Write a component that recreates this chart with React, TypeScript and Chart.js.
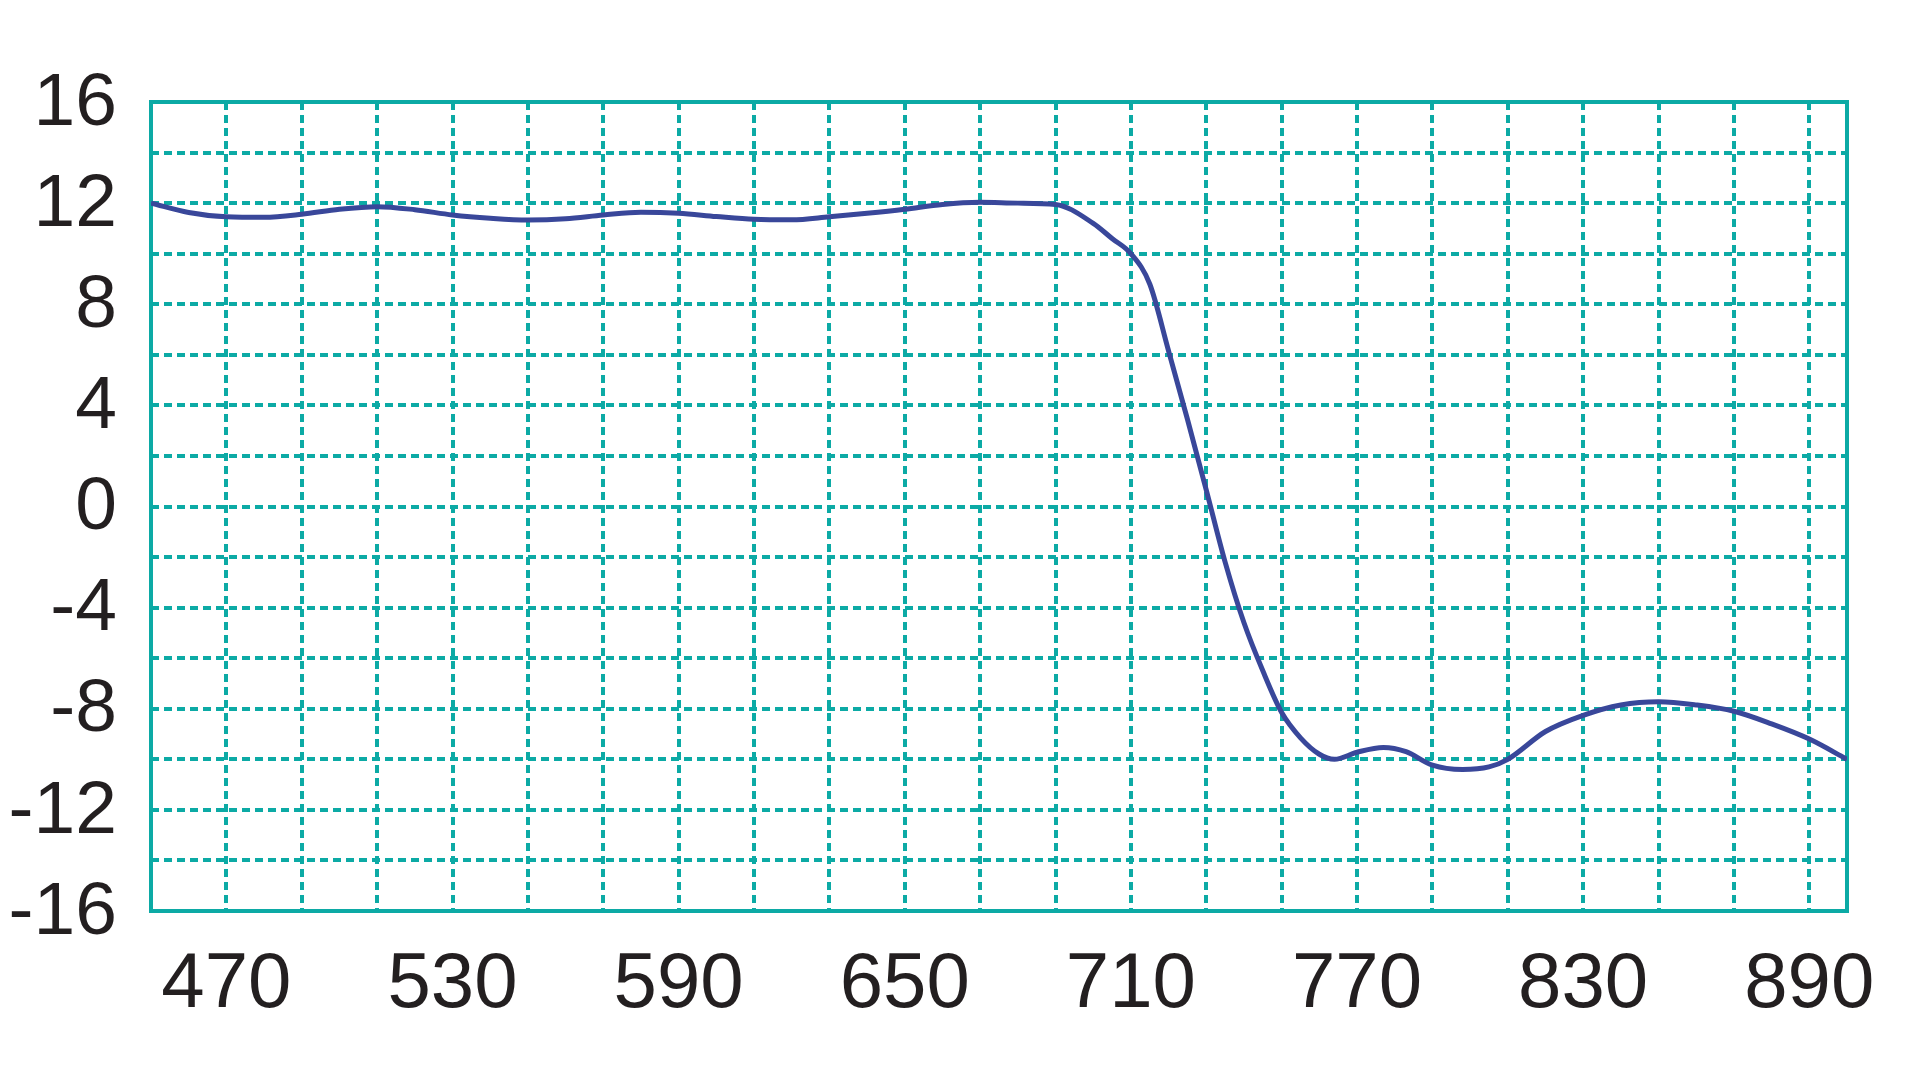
import React, { useEffect, useRef } from 'react';
import { Chart, registerables } from 'chart.js';

Chart.register(...registerables);

// Wavelength (x) and value (y)
const wavelengths = [
  450, 460, 470, 480, 490, 500, 510, 520, 530, 540, 550, 560, 570, 580, 590,
  600, 610, 620, 630, 640, 650, 660, 670, 680, 690, 700, 705, 710, 715, 720,
  725, 730, 735, 740, 745, 750, 755, 760, 764, 770, 777, 783, 790, 798, 805,
  810, 820, 830, 840, 850, 860, 870, 880, 890, 900,
];
const values = [
  12.0, 11.63, 11.46, 11.44, 11.56, 11.76, 11.86, 11.74, 11.53, 11.4, 11.33,
  11.38, 11.53, 11.64, 11.6, 11.47, 11.36, 11.34, 11.46, 11.6, 11.76, 11.95,
  12.03, 12.0, 11.95, 11.2, 10.6, 10.0, 8.8, 6.15, 3.45, 0.65, -2.2, -4.6,
  -6.5, -8.15, -9.15, -9.8, -10.0, -9.72, -9.53, -9.7, -10.23, -10.4, -10.3,
  -10.0, -8.9, -8.26, -7.85, -7.72, -7.85, -8.1, -8.6, -9.2, -10.0,
];

// Axis ticks
const xMin = 450;
const xMax = 900;
const xGridTicks = [
  470, 490, 510, 530, 550, 570, 590, 610, 630, 650, 670, 690, 710, 730, 750,
  770, 790, 810, 830, 850, 870, 890,
];
const xLabelTicks = [470, 530, 590, 650, 710, 770, 830, 890];
const yMin = -16;
const yMax = 16;
const yGridStep = 2;
const yLabelStep = 4;

const TEAL = '#0caaa5';
const LINE = '#39479a';
const TEXT = '#231f20';
const FONT = '"Liberation Sans", Arial, Helvetica, sans-serif';

const framePlugin = {
  id: 'frame',
  beforeDatasetsDraw(chart: any) {
    const { ctx, chartArea: a } = chart;
    ctx.save();
    ctx.strokeStyle = TEAL;
    ctx.lineWidth = 4;
    ctx.setLineDash([]);
    ctx.strokeRect(a.left, a.top, a.right - a.left, a.bottom - a.top);
    ctx.restore();
  },
};

export default function App() {
  const canvasRef = useRef<HTMLCanvasElement | null>(null);

  useEffect(() => {
    if (!canvasRef.current) return;
    const chart = new Chart(canvasRef.current, {
      type: 'line',
      data: {
        datasets: [
          {
            data: wavelengths.map((x, i) => ({ x, y: values[i] })),
            borderColor: LINE,
            borderWidth: 5,
            pointRadius: 0,
            fill: false,
            cubicInterpolationMode: 'monotone',
          },
        ],
      },
      options: {
        animation: false,
        responsive: false,
        maintainAspectRatio: false,
        layout: { padding: { left: 0, top: 102, right: 73, bottom: 0 } },
        plugins: {
          legend: { display: false },
          tooltip: { enabled: false },
        },
        scales: {
          x: {
            type: 'linear',
            min: xMin,
            max: xMax,
            afterBuildTicks: (scale: any) => {
              scale.ticks = xGridTicks.map((value) => ({ value }));
            },
            afterFit: (scale: any) => {
              scale.height = 169;
            },
            grid: {
              color: TEAL,
              lineWidth: 4,
              drawTicks: false,
            },
            border: { display: false, dash: [8, 5] },
            ticks: {
              autoSkip: false,
              maxRotation: 0,
              minRotation: 0,
              padding: 28,
              color: TEXT,
              font: { family: FONT, size: 78 },
              callback: (v: any) => (xLabelTicks.includes(Number(v)) ? String(v) : ''),
            },
          },
          y: {
            type: 'linear',
            min: yMin,
            max: yMax,
            afterFit: (scale: any) => {
              scale.width = 151;
            },
            grid: {
              color: TEAL,
              lineWidth: 4,
              drawTicks: false,
            },
            border: { display: false, dash: [8, 5] },
            ticks: {
              stepSize: yGridStep,
              autoSkip: false,
              padding: 34,
              labelOffset: 2,
              color: TEXT,
              font: { family: FONT, size: 75 },
              callback: (v: any) => (Number(v) % yLabelStep === 0 ? String(v) : ''),
            },
          },
        },
      },
      plugins: [framePlugin],
    } as any);
    return () => chart.destroy();
  }, []);

  return (
    <div style={{ position: 'absolute', left: 0, top: 0, width: 1920, height: 1080, background: '#ffffff' }}>
      <canvas ref={canvasRef} width={1920} height={1080} style={{ display: 'block' }} />
    </div>
  );
}
